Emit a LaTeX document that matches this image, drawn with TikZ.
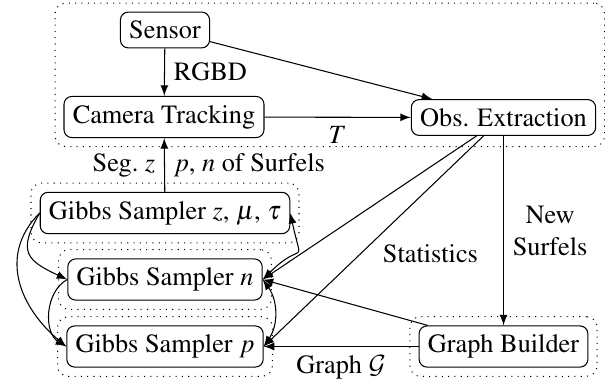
\documentclass[tikz,border=0pt]{standalone}
\usepackage{mathptmx}
\DeclareMathAlphabet{\mathcal}{OMS}{cmsy}{m}{n}
\usetikzlibrary{fit,calc}
\begin{document}
\begin{tikzpicture}[x=0.38pt,y=-0.38pt,
  every node/.append style={font=\fontencoding{OT1}\fontfamily{ptm}\fontsize{10}{12}\selectfont},
  box/.style={draw, rounded corners=3pt, inner sep=3.33pt},
  group/.style={draw, dotted, rounded corners=4pt, inner sep=3.3pt},
  flow/.style={-latex},
  both/.style={latex-latex}]
\useasboundingbox (0,0) rectangle (605,381);

% processing nodes
\node[box] (sensor) at (165,30)    {Sensor};
\node[box] (cam)    at (164,117)   {Camera Tracking};
\node[box] (obs)    at (503.5,117.5) {Obs. Extraction};
\node[box] (gz)     at (165,213)   {Gibbs Sampler $z$, $\mu$, $\tau$};
\node[box] (gn)     at (165,279.5) {Gibbs Sampler $n$};
\node[box] (gp)     at (165,346.5) {Gibbs Sampler $p$};
\node[box] (gb)     at (503.5,346.5) {Graph Builder};

% dotted groups
\node[group, fit=(sensor)(cam)(obs), inner sep=3.2pt] (front) {};
\node[group, fit=(gz)] (gzgrp) {};
\node[group, fit=(gn)] (gngrp) {};
\node[group, fit=(gp)] (gpgrp) {};
\node[group, fit=(gb)] (gbgrp) {};

% tracking front end
\draw[flow] (sensor) -- node[right] {RGBD} (cam);
\draw[flow] (sensor) -- (obs);
\draw[flow] (cam) -- node[below] {$T$} (obs);
\draw[flow] (gz) -- node[left] {Seg.\ $z$} node[right] {$p$, $n$ of Surfels} (cam);

% observations and graph
\draw[flow] ($(obs.south)+(-27,0)$) -- (gn.east);
\draw[flow] ($(obs.south)+(-20,0)$) -- node[pos=0.56, right=5pt] {Statistics} (gp.east);
\draw[flow] (obs.south) -- node[right, align=center] {New\\Surfels} (gb.north);
\draw[flow] (gb) -- (gn.east);
\draw[flow] (gb) -- node[below] {Graph $\mathcal{G}$} (gp.east);

% Gibbs sampler dependencies
\draw[flow] (gz.west) to[out=-120, in=155, looseness=1.6] (gn.west);
\draw[flow] (gz.west) to[out=-135, in=140, looseness=1.13] (gp.west);
\draw[flow] (gn.west) to[bend right=60] (gp.west);
\draw[both] (gz.east) to[out=-78, in=45, looseness=2.1] (gn.east);
\draw[both] (gn.east) to[bend left=35] (gp.east);
\end{tikzpicture}
\end{document}
